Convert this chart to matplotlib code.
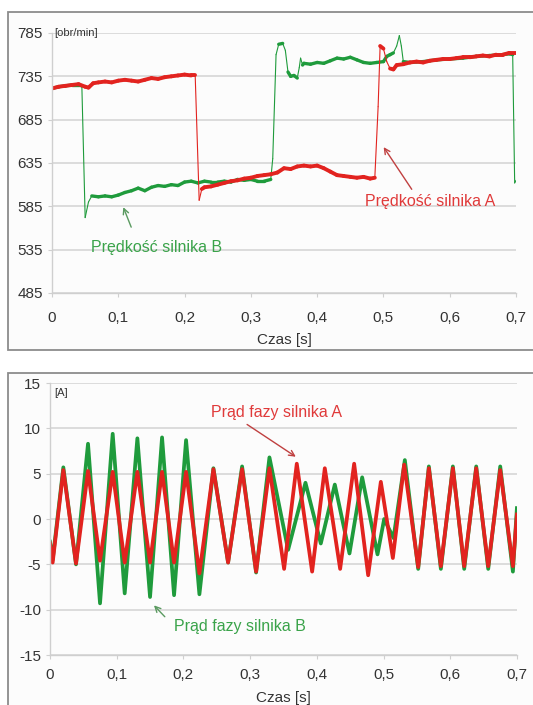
import matplotlib
matplotlib.use("Agg")
import matplotlib.pyplot as plt
import numpy as np
from matplotlib.collections import LineCollection
from matplotlib.patches import Rectangle

# --- speed data (top panel) ---
t_speed_a = [0.0, 0.01, 0.02, 0.03, 0.04, 0.05, 0.055, 0.062, 0.07, 0.08, 0.09, 0.1,
             0.11, 0.12, 0.13, 0.14, 0.15, 0.16, 0.17, 0.18, 0.19, 0.2, 0.21, 0.216,
             0.222, 0.226, 0.23, 0.24, 0.25, 0.26, 0.27, 0.28, 0.29, 0.3, 0.31, 0.32,
             0.33, 0.34, 0.35, 0.36, 0.37, 0.38, 0.39, 0.4, 0.41, 0.42, 0.43, 0.44,
             0.45, 0.46, 0.47, 0.48, 0.487, 0.492, 0.495, 0.5, 0.505, 0.51, 0.515,
             0.52, 0.53, 0.54, 0.55, 0.56, 0.57, 0.58, 0.59, 0.6, 0.61, 0.62, 0.63,
             0.64, 0.65, 0.66, 0.67, 0.68, 0.69, 0.7]
speed_a = [721, 723, 724, 725, 726, 723, 722, 727, 728, 729, 728, 730,
           731, 730, 729, 731, 733, 732, 734, 735, 736, 737, 736, 736,
           592, 605, 607, 608, 610, 612, 614, 615, 617, 618, 620, 621,
           622, 624, 629, 628, 631, 632, 631, 632, 629, 625, 621, 620,
           619, 618, 619, 617, 618, 700, 770, 767, 752, 744, 743,
           748, 749, 751, 752, 751, 753, 754, 755, 755, 756, 757, 757,
           758, 759, 758, 760, 760, 762, 762]

t_speed_b = [0.0, 0.01, 0.02, 0.03, 0.04, 0.045, 0.05, 0.055, 0.06, 0.07, 0.08, 0.09,
             0.1, 0.11, 0.12, 0.13, 0.14, 0.15, 0.16, 0.17, 0.18, 0.19, 0.2, 0.21,
             0.22, 0.23, 0.24, 0.25, 0.26, 0.27, 0.28, 0.29, 0.3, 0.31, 0.32, 0.33,
             0.333, 0.338, 0.342, 0.348, 0.352, 0.356, 0.36, 0.365, 0.37, 0.373,
             0.375, 0.378, 0.38, 0.39, 0.4, 0.41, 0.42, 0.43, 0.44, 0.45, 0.46,
             0.47, 0.48, 0.49, 0.5, 0.505, 0.51, 0.515, 0.52, 0.524, 0.527, 0.53,
             0.54, 0.56, 0.58, 0.6, 0.62, 0.64, 0.66, 0.68, 0.69, 0.695, 0.698, 0.7]
speed_b = [721, 723, 724, 725, 725, 724, 572, 590, 597, 596, 597, 596,
           598, 601, 603, 606, 603, 607, 609, 608, 610, 609, 613, 614,
           612, 614, 613, 613, 614, 613, 616, 615, 616, 614, 614, 616,
           640, 760, 772, 773, 765, 740, 735, 736, 733, 745,
           756, 748, 750, 749, 751, 750, 753, 756, 755, 757, 754,
           751, 750, 751, 752, 758, 760, 762, 770, 782, 770, 752,
           751, 752, 754, 755, 756, 758, 759, 760, 761, 760, 612, 615]

# --- phase current data (bottom panel), peaks and troughs ---
t_cur_a = [0.0, 0.004, 0.02, 0.039, 0.057, 0.075, 0.094, 0.112, 0.131, 0.15, 0.168,
           0.186, 0.204, 0.224, 0.245, 0.267, 0.288, 0.309, 0.329, 0.351, 0.37,
           0.393, 0.412, 0.435, 0.456, 0.477, 0.496, 0.514, 0.531, 0.552, 0.568,
           0.586, 0.604, 0.621, 0.639, 0.657, 0.675, 0.694, 0.7]
cur_a = [-2.7, -4.8, 5.4, -4.9, 5.3, -4.6, 5.2, -4.8, 5.2, -4.8, 5.2,
         -4.8, 5.2, -6.0, 5.5, -4.8, 5.5, -5.8, 5.6, -5.5, 6.1,
         -5.8, 5.6, -5.5, 6.1, -6.2, 4.1, -4.3, 6.0, -5.3, 5.6,
         -5.2, 5.6, -5.2, 5.6, -5.2, 5.4, -5.2, 0.5]

t_cur_b = [0.0, 0.004, 0.02, 0.039, 0.057, 0.075, 0.094, 0.112, 0.131, 0.15, 0.168,
           0.186, 0.204, 0.224, 0.245, 0.267, 0.288, 0.309, 0.329, 0.357, 0.383,
           0.406, 0.427, 0.449, 0.468, 0.491, 0.501, 0.515, 0.532, 0.552, 0.568,
           0.586, 0.604, 0.621, 0.639, 0.657, 0.675, 0.694, 0.7]
cur_b = [-2.5, -4.5, 5.7, -5.0, 8.3, -9.3, 9.4, -8.2, 8.9, -8.6, 9.0,
         -8.4, 8.7, -8.3, 5.6, -4.8, 5.8, -5.9, 6.8, -3.4, 4.0,
         -2.7, 3.8, -3.8, 4.6, -3.9, 0.0, -2.1, 6.5, -5.5, 5.8,
         -5.5, 5.8, -5.5, 5.8, -5.5, 5.8, -5.8, 1.2]

x_ticks = [0, 0.1, 0.2, 0.3, 0.4, 0.5, 0.6, 0.7]
x_labels = ["0", "0,1", "0,2", "0,3", "0,4", "0,5", "0,6", "0,7"]
speed_ticks = [485, 535, 585, 635, 685, 735, 785]
cur_ticks = [-15, -10, -5, 0, 5, 10, 15]

RED = "#e2231f"
GREEN = "#1f9b3c"
GRID = "#d6d6d6"
TXT = "#333333"

plt.rcParams["font.family"] = ["Liberation Sans", "DejaVu Sans"]
plt.rcParams["axes.unicode_minus"] = False

fig = plt.figure(figsize=(5.33, 7.05), dpi=100)

# panel frames (behind the axes)
fig.patches.append(Rectangle((0.015, 0.5035), 1.1, 0.4795, transform=fig.transFigure,
                             facecolor="#fcfcfc", edgecolor="#8c8c8c", lw=1.3, zorder=-5))
fig.patches.append(Rectangle((0.015, -0.1), 1.1, 0.571, transform=fig.transFigure,
                             facecolor="#fcfcfc", edgecolor="#8c8c8c", lw=1.3, zorder=-5))


def noisy_line(ax, x, y, color, lw_flat, lw_steep, xscale, yscale):
    # thick where the trace is flat (noise band), thin on fast jumps
    pts = np.column_stack([x, y])
    segs = np.stack([pts[:-1], pts[1:]], axis=1)
    dx = np.diff(x) / xscale
    dy = np.abs(np.diff(y)) / yscale
    widths = np.where(dy > 3 * dx, lw_steep, lw_flat)
    lc = LineCollection(segs, colors=color, linewidths=widths, capstyle="round",
                        joinstyle="round")
    ax.add_collection(lc)


def style_axes(ax, yticks, xpad, lpad):
    ax.set_facecolor("none")
    ax.set_xlim(0, 0.7)
    ax.set_ylim(yticks[0], yticks[-1])
    ax.set_xticks(x_ticks)
    ax.set_xticklabels(x_labels)
    ax.set_yticks(yticks)
    ax.yaxis.grid(True, color=GRID, lw=1.2)
    ax.set_axisbelow(True)
    for s in ["top", "right"]:
        ax.spines[s].set_visible(False)
    for s in ["left", "bottom"]:
        ax.spines[s].set_color("#cfcfcf")
        ax.spines[s].set_linewidth(1.0)
    ax.tick_params(axis="both", colors="#cfcfcf", labelcolor=TXT, labelsize=11,
                   length=3, direction="out")
    ax.tick_params(axis="x", pad=xpad)
    ax.set_xlabel("Czas [s]", fontsize=11, color=TXT, labelpad=lpad)


# top: rotational speed
ax1 = fig.add_axes([0.0976, 0.5844, 0.8705, 0.3688])
style_axes(ax1, speed_ticks, 10, 6)
noisy_line(ax1, np.array(t_speed_b), np.array(speed_b, float), GREEN, 2.4, 0.8, 0.7, 300)
noisy_line(ax1, np.array(t_speed_a), np.array(speed_a, float), RED, 2.8, 0.8, 0.7, 300)
ax1.text(0.004, 785, "[obr/min]", fontsize=8, color=TXT, ha="left", va="center")
ax1.text(0.157, 537, "Prędkość silnika B", fontsize=11.5, color="#3aa34a",
         ha="center", va="center")
ax1.annotate("", xy=(0.106, 587), xytext=(0.121, 558),
             arrowprops=dict(arrowstyle="->", color="#5a9a60", lw=1))
ax1.text(0.570, 590, "Prędkość silnika A", fontsize=11.5, color="#e03a3a",
         ha="center", va="center")
ax1.annotate("", xy=(0.498, 656), xytext=(0.545, 602),
             arrowprops=dict(arrowstyle="->", color="#c04040", lw=1))

# bottom: phase current
ax2 = fig.add_axes([0.0938, 0.0709, 0.876, 0.3858])
style_axes(ax2, cur_ticks, 6, 7)
ax2.plot(t_cur_b, cur_b, color=GREEN, lw=2.7, solid_joinstyle="round")
ax2.plot(t_cur_a, cur_a, color=RED, lw=2.7, solid_joinstyle="round")
ax2.text(0.006, 13.9, "[A]", fontsize=8, color=TXT, ha="left", va="center")
ax2.text(0.339, 11.7, "Prąd fazy silnika A", fontsize=11.5, color="#e03a3a",
         ha="center", va="center")
ax2.annotate("", xy=(0.372, 6.7), xytext=(0.292, 10.6),
             arrowprops=dict(arrowstyle="->", color="#c04040", lw=1))
ax2.text(0.285, -11.9, "Prąd fazy silnika B", fontsize=11.5, color="#3aa34a",
         ha="center", va="center")
ax2.annotate("", xy=(0.153, -9.3), xytext=(0.175, -11.0),
             arrowprops=dict(arrowstyle="->", color="#5a9a60", lw=1))

fig.savefig("out.png", dpi=100)
